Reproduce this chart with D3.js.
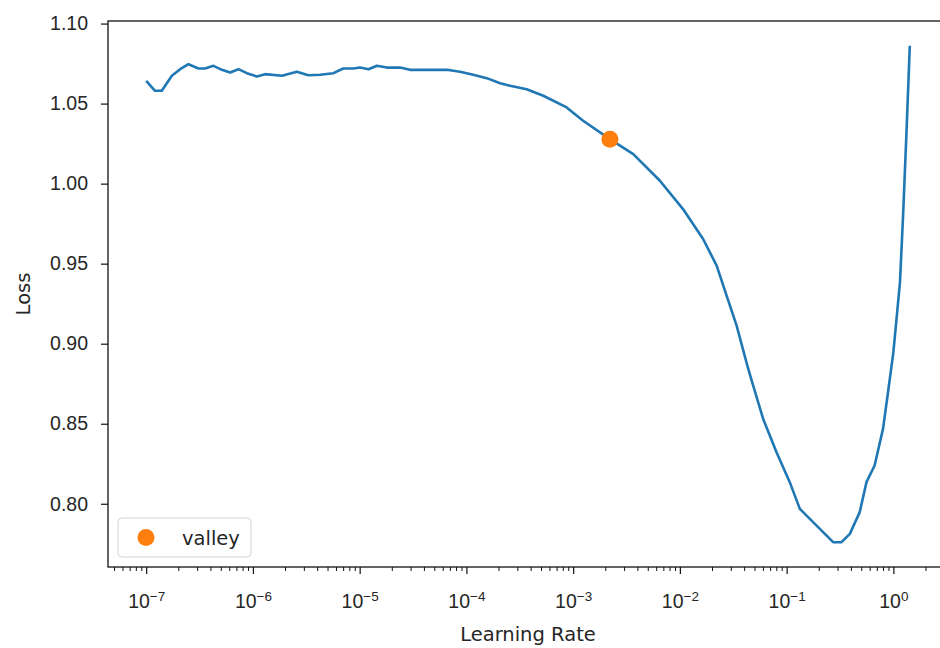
<!DOCTYPE html>
<html>
<head>
<meta charset="utf-8">
<script src="https://cdn.jsdelivr.net/npm/d3@7"></script>
<style>
  body { margin: 0; background: #fff; }
  svg { display: block; font-family: "DejaVu Sans", sans-serif; }
</style>
</head>
<body>
<div id="chart"></div>
<script>
// values
const learningRates = [
  1.00e-7, 1.21e-7, 1.40e-7, 1.74e-7, 2.08e-7, 2.49e-7, 3.09e-7, 3.56e-7, 4.27e-7, 5.12e-7,
  6.12e-7, 7.31e-7, 8.77e-7, 1.09e-6, 1.30e-6, 1.87e-6, 2.58e-6, 3.31e-6, 4.26e-6, 5.68e-6,
  7.03e-6, 8.73e-6, 1.01e-5, 1.21e-5, 1.45e-5, 1.79e-5, 2.39e-5, 2.96e-5, 3.68e-5, 6.55e-5,
  8.71e-5, 1.16e-4, 1.55e-4, 2.07e-4, 2.56e-4, 3.67e-4, 5.25e-4, 8.69e-4, 1.24e-3, 2.21e-3,
  3.66e-3, 6.50e-3, 1.07e-2, 1.65e-2, 2.21e-2, 2.74e-2, 3.40e-2, 4.37e-2, 4.86e-2, 6.03e-2,
  8.04e-2, 0.107, 0.133, 0.177, 0.273, 0.327, 0.391, 0.484, 0.560, 0.667,
  0.800, 0.891, 1.00, 1.153, 1.233, 1.327, 1.426
];
const losses = [
  1.0642, 1.0580, 1.0580, 1.0674, 1.0715, 1.0746, 1.0719, 1.0719, 1.0736, 1.0711,
  1.0694, 1.0715, 1.0690, 1.0669, 1.0684, 1.0674, 1.0699, 1.0677, 1.0680, 1.0690,
  1.0719, 1.0719, 1.0725, 1.0715, 1.0736, 1.0725, 1.0725, 1.0711, 1.0711, 1.0711,
  1.0699, 1.0680, 1.0659, 1.0627, 1.0611, 1.0590, 1.0549, 1.0476, 1.0393, 1.0278,
  1.0184, 1.0018, 0.9841, 0.9654, 0.9488, 0.9300, 0.9113, 0.8842, 0.8738, 0.8530,
  0.8322, 0.8135, 0.7968, 0.7885, 0.7760, 0.7760, 0.7812, 0.7948, 0.8135, 0.8239,
  0.8468, 0.8697, 0.8946, 0.9383, 0.9800, 1.0320, 1.0861
];
const valleyLr = [2.21e-3];
const valleyLoss = [1.0278];
const xTickExponents = [-7, -6, -5, -4, -3, -2, -1, 0];
const yTicks = [0.80, 0.85, 0.90, 0.95, 1.00, 1.05, 1.10];
const legendLabels = ["valley"];

const width = 940;
const height = 648;
const marginTop = 21;
const marginLeft = 108;
const plotWidth = 840;   // axes run past the right edge of the picture
const plotHeight = 546;
const fontSize = 19.5;

const svg = d3.select("#chart")
  .append("svg")
  .attr("width", width)
  .attr("height", height)
  .attr("viewBox", [0, 0, width, height])
  .style("overflow", "hidden");

// matplotlib style 5% margins, x in log space
const lx = d3.extent(learningRates, d => Math.log10(d));
const padX = (lx[1] - lx[0]) * 0.05;
const x = d3.scaleLog()
  .domain([Math.pow(10, lx[0] - padX), Math.pow(10, lx[1] + padX)])
  .range([marginLeft, marginLeft + plotWidth]);

const ly = d3.extent(losses);
const padY = (ly[1] - ly[0]) * 0.05;
const y = d3.scaleLinear()
  .domain([ly[0] - padY, ly[1] + padY])
  .range([marginTop + plotHeight, marginTop]);

const textColor = "#262626";

// minor ticks 2..9 per decade
const minorTicks = [];
for (let k = -8; k <= 1; k++) {
  for (let m = 2; m <= 9; m++) {
    const v = m * Math.pow(10, k);
    if (v >= x.domain()[0] && v <= x.domain()[1]) minorTicks.push(v);
  }
}

svg.append("g")
  .attr("transform", `translate(0,${marginTop + plotHeight})`)
  .call(d3.axisBottom(x).tickValues(minorTicks).tickSize(4).tickFormat(""))
  .call(g => g.select(".domain").remove())
  .call(g => g.selectAll(".tick line").attr("stroke", "#111").attr("stroke-width", 1));

const xMajor = xTickExponents.map(e => Math.pow(10, e));
svg.append("g")
  .attr("transform", `translate(0,${marginTop + plotHeight})`)
  .call(d3.axisBottom(x).tickValues(xMajor).tickSize(7).tickFormat(""))
  .call(g => g.select(".domain").remove())
  .call(g => g.selectAll(".tick line").attr("stroke", "#111").attr("stroke-width", 1.2))
  .call(g => g.selectAll(".tick").each(function(d, i) {
    const t = d3.select(this).append("text")
      .attr("y", 41)
      .attr("fill", textColor)
      .attr("text-anchor", "middle")
      .style("font-size", fontSize + "px");
    t.append("tspan").text("10");
    t.append("tspan")
      .attr("dy", -7)
      .style("font-size", "13.5px")
      .text(xTickExponents[i] === 0 ? "0" : "\u2212" + Math.abs(xTickExponents[i]));
  }));

svg.append("g")
  .attr("transform", `translate(${marginLeft},0)`)
  .call(d3.axisLeft(y).tickValues(yTicks).tickSize(7).tickPadding(13).tickFormat(d3.format(".2f")))
  .call(g => g.select(".domain").remove())
  .call(g => g.selectAll(".tick line").attr("stroke", "#111").attr("stroke-width", 1.2))
  .call(g => g.selectAll(".tick text").attr("fill", textColor).style("font-size", fontSize + "px"));

// axes frame
svg.append("rect")
  .attr("x", marginLeft)
  .attr("y", marginTop)
  .attr("width", plotWidth)
  .attr("height", plotHeight)
  .attr("fill", "none")
  .attr("stroke", "#111")
  .attr("stroke-width", 1.3);

const line = d3.line()
  .x((d, i) => x(learningRates[i]))
  .y(d => y(d));

svg.append("path")
  .attr("d", line(losses))
  .attr("fill", "none")
  .attr("stroke", "#1f77b4")
  .attr("stroke-width", 2.6)
  .attr("stroke-linejoin", "round");

svg.selectAll(".valley")
  .data(valleyLr)
  .join("circle")
  .attr("class", "valley")
  .attr("cx", d => x(d))
  .attr("cy", (d, i) => y(valleyLoss[i]))
  .attr("r", 8.5)
  .attr("fill", "#ff7f0e");

// axis titles
svg.append("text")
  .attr("x", marginLeft + plotWidth / 2)
  .attr("y", 641)
  .attr("text-anchor", "middle")
  .attr("fill", textColor)
  .style("font-size", fontSize + "px")
  .text("Learning Rate");

svg.append("text")
  .attr("transform", `translate(30,${marginTop + plotHeight / 2}) rotate(-90)`)
  .attr("text-anchor", "middle")
  .attr("fill", textColor)
  .style("font-size", fontSize + "px")
  .text("Loss");

// legend
const legend = svg.append("g")
  .attr("transform", `translate(${marginLeft + 10},${marginTop + plotHeight - 49})`);
legend.append("rect")
  .attr("width", 133)
  .attr("height", 39)
  .attr("rx", 4)
  .attr("fill", "#fff")
  .attr("fill-opacity", 0.8)
  .attr("stroke", "#d4d4d4");
legend.append("circle")
  .attr("cx", 28)
  .attr("cy", 19.5)
  .attr("r", 8.5)
  .attr("fill", "#ff7f0e");
legend.append("text")
  .attr("x", 64)
  .attr("y", 26.5)
  .attr("fill", textColor)
  .style("font-size", fontSize + "px")
  .text(legendLabels[0]);
</script>
</body>
</html>
